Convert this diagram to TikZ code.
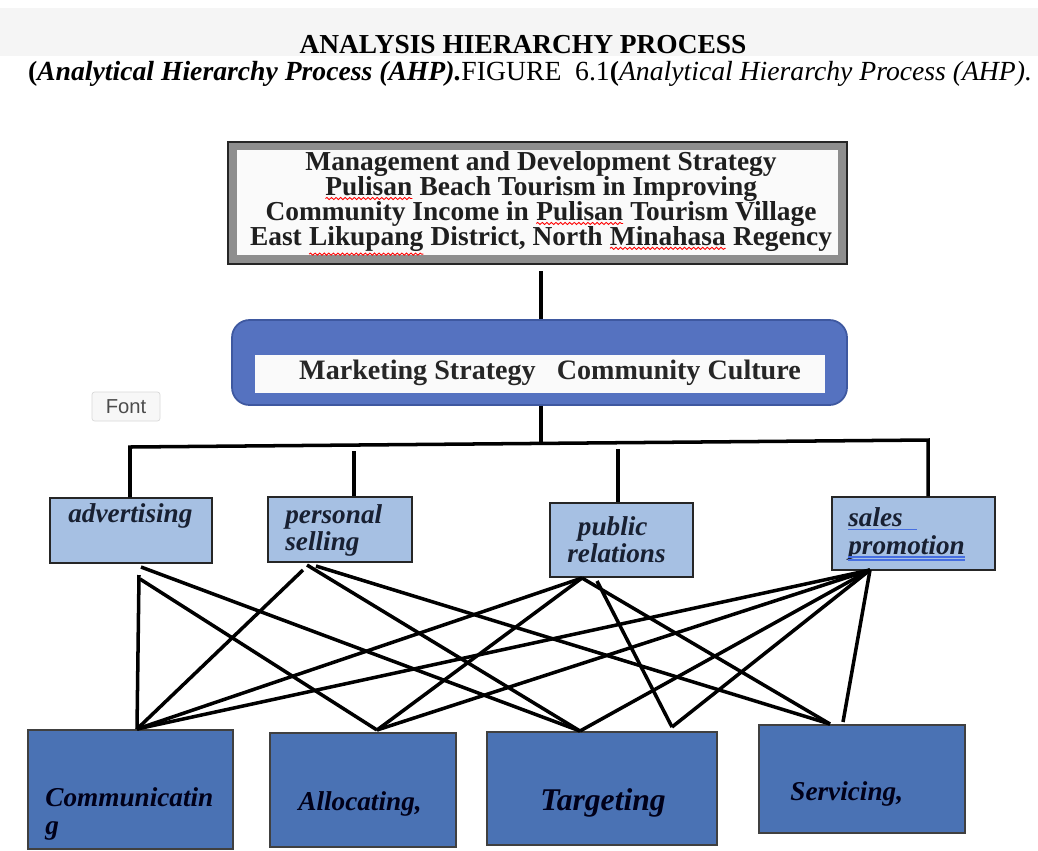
\documentclass[tikz,border=0pt]{standalone}
\usepackage{fontspec}
\setmainfont{Liberation Serif}
\newfontfamily\uifont{Liberation Sans}
\usetikzlibrary{fit,decorations.pathmorphing}

\definecolor{topgray}{RGB}{142,142,142}
\definecolor{midblue}{RGB}{85,114,192}
\definecolor{midedge}{RGB}{62,88,160}
\definecolor{paleblue}{RGB}{166,192,227}
\definecolor{lowblue}{RGB}{74,114,180}
\definecolor{inkblue}{RGB}{24,32,50}
\definecolor{lineblue}{RGB}{70,110,225}

% red wavy mark under a word
\newcommand{\spell}[1]{\tikz[baseline=(w.base)]{\node[inner sep=0pt, outer sep=0pt] (w) {#1};
	\draw[red, line width=0.5pt, decorate, decoration={snake, amplitude=0.6pt, segment length=2.6pt}] ([yshift=-1.6pt]w.south west) -- ([yshift=-1.6pt]w.south east);}}

\tikzset{
	midbox/.style={inner sep=0pt, fill=paleblue, draw=black!85, line width=0.8pt},
	lowbox/.style={inner sep=0pt, fill=lowblue, draw=black!75, line width=0.8pt},
	midtxt/.style={inner sep=0pt, align=left, text=inkblue, font=\bfseries\itshape\fontsize{15.5}{15.6}\selectfont},
	lowtxt/.style={inner sep=0pt, align=left, text=black!90!blue, font=\bfseries\itshape\fontsize{15.5}{16}\selectfont},
	wire/.style={line width=2pt},
	uline/.style={lineblue, line width=0.8pt}
}

\begin{document}
\begin{tikzpicture}[x=0.02cm, y=-0.02cm]
		%%%%% START %%%%%
		\useasboundingbox (0, 0) rectangle (1038, 850);
		\fill[white] (0, 0) rectangle (1038, 850);
		\fill[black!4] (0, 8) rectangle (1038, 56);
		
		\node[font=\bfseries\fontsize{15.6}{18}\selectfont] (title) at (523, 45) {ANALYSIS HIERARCHY PROCESS};
		\node[anchor=base, font=\fontsize{15.75}{18}\selectfont] (caption) at (530, 80) {\textbf{(\textit{Analytical Hierarchy Process (AHP).}}FIGURE\ \ 6.1\textbf{(}\textit{Analytical Hierarchy Process (AHP).}};
		
		% goal
		\node[fit={(228, 142) (847, 264)}, inner sep=0pt, fill=topgray, draw=black!85, line width=1pt] (goal) {};
		\fill[black!2] (237, 150) rectangle (838, 255);
		\node[align=center, text=black!88, font=\bfseries\fontsize{15.6}{14.2}\selectfont, execute at begin node={\setlength{\lineskiplimit}{-20pt}}] (goaltxt) at (541, 203.5) {Management and Development Strategy\\\spell{Pulisan} Beach Tourism in Improving\\Community Income in \spell{Pulisan} Tourism Village\\East \spell{Likupang} District, North \spell{Minahasa} Regency};
		
		% criteria
		\node[fit={(232, 320) (847, 405)}, inner sep=0pt, rounded corners=10pt, fill=midblue, draw=midedge, line width=1pt] (mkt) {};
		\fill[black!2] (255, 355) rectangle (825, 393);
		\node[text=black!85, font=\bfseries\fontsize{16}{19}\selectfont] (mkttxt) at (550, 373) {Marketing Strategy\ \ \ Community Culture};
		
		\node[fit={(92, 392) (160, 421)}, inner sep=0pt, rounded corners=1.5pt, fill=black!3, draw=black!15] (fontbox) {};
		\node[text=black!70, font=\uifont\fontsize{11.5}{13}\selectfont] at (fontbox) {Font};
		
		% marketing mix
		\node[fit={(50, 498) (212, 563)}, midbox] (adv) {};
		\node[fit={(268, 497) (412, 562)}, midbox] (ps) {};
		\node[fit={(550, 503) (693, 577)}, midbox] (pr) {};
		\node[fit={(832, 497) (995, 570)}, midbox] (sp) {};
		\node[midtxt, anchor=base west] (advtxt) at (68, 522) {advertising};
		\node[midtxt, anchor=north west] (pstxt) at (285, 504) {personal\\selling};
		\node[midtxt, anchor=north west] (prtxt) at (567, 516) {\hspace{6pt}public\\relations};
		\node[midtxt, anchor=north west] (sptxt) at (848, 507.5) {sales\\promotion};
		\coordinate (ul-a) at (848, 529.5);
		\coordinate (ul-b) at (848, 557);
		\coordinate (ul-c) at (848, 560);
		\draw[uline] (ul-a) -- ++(69, 0);
		\draw[uline] (ul-b) -- (ul-b -| sptxt.east);
		\draw[uline] (ul-c) -- (ul-c -| sptxt.east);
		
		% alternatives
		\node[fit={(28, 730) (233, 849)}, lowbox] (comm) {};
		\node[fit={(270, 733) (456, 847)}, lowbox] (alloc) {};
		\node[fit={(487, 732) (717, 845)}, lowbox] (targ) {};
		\node[fit={(759, 725) (965, 833)}, lowbox] (serv) {};
		\node[lowtxt, anchor=north west] (commtxt) at (45, 787.6) {Communicatin\\g};
		\node[lowtxt, anchor=base west] (alloctxt) at (298, 810) {Allocating,};
		\node[lowtxt, anchor=base west, font=\bfseries\itshape\fontsize{18}{20}\selectfont] (targtxt) at (540, 810) {Targeting};
		\node[lowtxt, anchor=base west] (servtxt) at (790, 800) {Servicing,};
		
		% tree lines
		\coordinate (stem-a) at (541, 271);
		\coordinate (stem-b) at (541, 443);
		\coordinate (bus-l) at (130, 447);
		\coordinate (bus-r) at (928, 440);
		\coordinate (drop-ps) at (354, 451);
		\coordinate (drop-pr) at (618, 449);
		
		\draw[wire] (stem-a) -- (stem-a |- mkt.north);
		\draw[wire] (stem-b |- mkt.south) -- (stem-b);
		\draw[wire] (bus-l |- adv.north) -- (bus-l) -- (bus-r) -- (bus-r |- sp.north);
		\draw[wire] (drop-ps) -- (drop-ps |- ps.north);
		\draw[wire] (drop-pr) -- (drop-pr |- pr.north);
		
		% cross links
		\coordinate (adv-c) at (139, 575);
		\coordinate (adv-a) at (140, 579);
		\coordinate (adv-t) at (141, 567);
		\coordinate (ps-c) at (303, 570);
		\coordinate (ps-t) at (307, 565);
		\coordinate (ps-s) at (316, 566);
		\coordinate (pr-o) at (582, 578);
		\coordinate (pr-t) at (597, 581);
		\coordinate (sp-o) at (870, 570);
		\coordinate (comm-i) at (137, 729);
		\coordinate (alloc-i) at (377, 730);
		\coordinate (targ-l) at (580, 731);
		\coordinate (targ-r) at (672, 727);
		\coordinate (serv-l) at (830, 724);
		\coordinate (serv-r) at (843, 722);
		
		\draw[wire] (adv-c) -- (comm-i);
		\draw[wire] (adv-a) -- (alloc-i);
		\draw[wire] (adv-t) -- (targ-l);
		\draw[wire] (ps-c) -- (comm-i);
		\draw[wire] (ps-t) -- (targ-l);
		\draw[wire] (ps-s) -- (serv-l);
		\draw[wire] (pr-o) -- (comm-i);
		\draw[wire] (pr-o) -- (alloc-i);
		\draw[wire] (pr-t) -- (targ-r);
		\draw[wire] (pr-o) -- (serv-l);
		\draw[wire] (sp-o) -- (comm-i);
		\draw[wire] (sp-o) -- (alloc-i);
		\draw[wire] (sp-o) -- (targ-l);
		\draw[wire] (sp-o) -- (targ-r);
		\draw[wire] (sp-o) -- (serv-r);
		
		%%%%% END %%%%%
\end{tikzpicture}
\end{document}
